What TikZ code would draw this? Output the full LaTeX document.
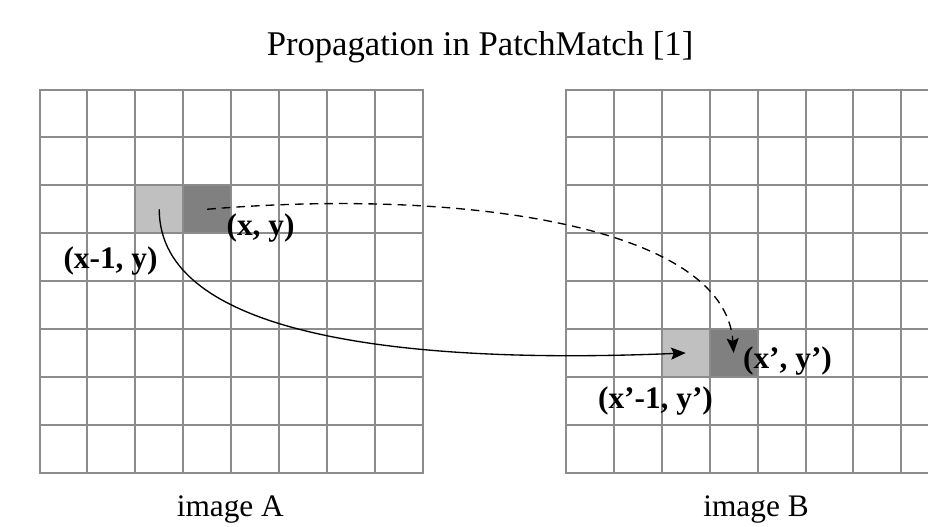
\documentclass[tikz,border=0pt]{standalone}
\usepackage{fontspec}
\setmainfont{Liberation Serif}
\usetikzlibrary{arrows.meta}
\definecolor{lightcell}{HTML}{C0C0C0}
\definecolor{darkcell}{HTML}{808080}
\definecolor{gridgray}{HTML}{8C8C8C}
\tikzset{
  gridline/.style={gridgray, line width=1.5pt, line cap=rect},
  cell/.style={inner sep=0pt, outer sep=0pt, minimum size=35.925pt},
  coordlabel/.style={font=\fontsize{23.5}{24}\selectfont\bfseries, anchor=base, inner sep=0pt},
  imglabel/.style={font=\fontsize{23.5}{24}\selectfont, anchor=base, inner sep=0pt},
  link/.style={line width=1pt, -{Stealth[length=11pt, width=9pt, inset=2pt]}}
}

\begin{document}
\begin{tikzpicture}[x=0.75pt, y=-0.75pt]
        \clip (0,0) rectangle (928,526);
        \node[font=\fontsize{26}{26}\selectfont, anchor=base, inner sep=0pt] (title) at (480,55) {Propagation in PatchMatch [1]};

        \node[cell, fill=lightcell] (prevA) at (159.25,209.25) {};
        \node[cell, fill=darkcell] (curA) at (207.15,209.25) {};
        \node[cell, fill=lightcell] (prevB) at (685.75,352.95) {};
        \node[cell, fill=darkcell] (curB) at (733.65,352.95) {};

        \foreach \i in {0,...,8} {
            \draw[gridline] (39.5+\i*47.9, 89.5) -- (39.5+\i*47.9, 472.7);
            \draw[gridline] (39.5, 89.5+\i*47.9) -- (422.7, 89.5+\i*47.9);
            \draw[gridline] (566+\i*47.9, 89.5) -- (566+\i*47.9, 472.7);
            \draw[gridline] (566, 89.5+\i*47.9) -- (949.2, 89.5+\i*47.9);
        }

        \draw[link] (prevA.center) .. controls (159,335) and (400,365) .. (prevB.center);
        \draw[link, dash pattern=on 6.5pt off 4.5pt] (curA.center) .. controls (460,188) and (725,225) .. (curB.center);

        \node[coordlabel] (xy) at (260.5,235) {(x, y)};
        \node[coordlabel] (xmy) at (110.5,268) {(x-1, y)};
        \node[coordlabel] (xyB) at (787.5,368) {(x’, y’)};
        \node[coordlabel] (xmyB) at (655.5,408) {(x’-1, y’)};

        \node[imglabel] (imgA) at (230.3,516.7) {image A};
        \node[imglabel] (imgB) at (756,516.5) {image B};
    \end{tikzpicture}
\end{document}
